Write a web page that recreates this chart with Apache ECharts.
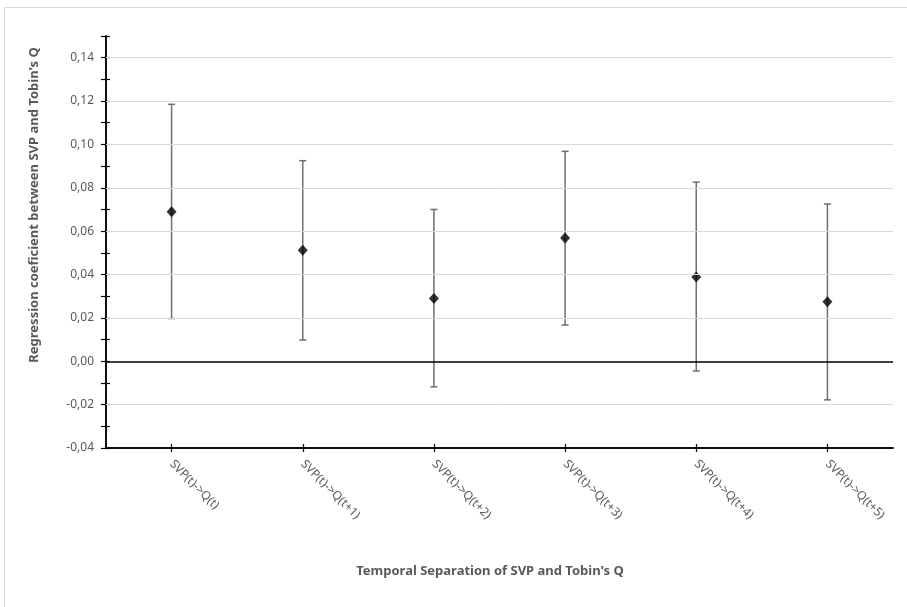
<!DOCTYPE html>
<html lang="en">
<head>
    <meta charset="UTF-8" />
    <title>Regression coefficients</title>
    <style>
        body {
            margin: 0;
            padding: 0;
            background: #fff;
        }
        .chart {
            width: 907px;
            height: 607px;
        }
    </style>
</head>
<body>
<div class="chart"></div>
<script src="https://cdn.jsdelivr.net/npm/echarts@6/dist/echarts.min.js"></script>
<script>
    // data
    const categories = ['SVP(t)->Q(t)', 'SVP(t)->Q(t+1)', 'SVP(t)->Q(t+2)', 'SVP(t)->Q(t+3)', 'SVP(t)->Q(t+4)', 'SVP(t)->Q(t+5)'];
    const coef = [0.069, 0.0512, 0.029, 0.0568, 0.0389, 0.0274];
    const upper = [0.1185, 0.0925, 0.0700, 0.0968, 0.0826, 0.0725];
    const lower = [0.0197, 0.0098, -0.0118, 0.0167, -0.0045, -0.0178];
    const gridValues = [-0.02, 0.02, 0.04, 0.06, 0.08, 0.10, 0.12, 0.14];

    const textColor = '#595959';
    const fontFamily = 'Noto Sans';

    const container = document.querySelector('.chart');
    const instance = echarts.init(container);

    const yBase = {
        type: 'value',
        min: -0.04,
        max: 0.15,
        interval: 0.01,
        position: 'left',
        axisLine: { show: true, lineStyle: { color: '#000', width: 1.5 } },
        splitLine: { show: false }
    };

    const xBase = {
        type: 'category',
        data: categories,
        boundaryGap: true,
        position: 'bottom',
        axisLine: { show: true, onZero: false, lineStyle: { color: '#000', width: 1.5 } },
        splitLine: { show: false }
    };

    const option = {
        animation: false,
        grid: { left: 106, right: 14, top: 36, bottom: 159 },
        xAxis: [
            Object.assign({}, xBase, {
                axisTick: { show: true, alignWithLabel: true, length: 4, lineStyle: { color: '#000', width: 1.2 } },
                axisLabel: {
                    rotate: -45,
                    margin: 14,
                    color: textColor,
                    fontFamily: fontFamily,
                    fontSize: 12
                }
            }),
            Object.assign({}, xBase, {
                axisTick: { show: true, alignWithLabel: true, inside: true, length: 4, lineStyle: { color: '#000', width: 1.2 } },
                axisLabel: { show: false }
            })
        ],
        yAxis: [
            Object.assign({}, yBase, {
                axisTick: { show: true, length: 5, lineStyle: { color: '#000', width: 1.2 } },
                axisLabel: {
                    margin: 12,
                    color: textColor,
                    fontFamily: fontFamily,
                    fontSize: 12,
                    formatter: function (v) {
                        const k = Math.round(v * 100);
                        if (k % 2 !== 0 || k > 14) return '';
                        return v.toFixed(2).replace('.', ',');
                    }
                }
            }),
            Object.assign({}, yBase, {
                axisTick: { show: true, inside: true, length: 4, lineStyle: { color: '#000', width: 1.2 } },
                axisLabel: { show: false }
            })
        ],
        graphic: [
            {
                type: 'line',
                shape: { x1: 4.5, y1: 7.5, x2: 907, y2: 7.5 },
                style: { stroke: '#d9d9d9', lineWidth: 1 }
            },
            {
                type: 'line',
                shape: { x1: 4.5, y1: 7.5, x2: 4.5, y2: 607 },
                style: { stroke: '#d9d9d9', lineWidth: 1 }
            },
            {
                type: 'text',
                x: 34,
                y: 205,
                rotation: Math.PI / 2,
                style: {
                    text: "Regression coeficient between SVP and Tobin's Q",
                    fill: textColor,
                    font: 'bold 13px "Noto Sans"',
                    textAlign: 'center',
                    textVerticalAlign: 'middle'
                }
            },
            {
                type: 'text',
                x: 490,
                y: 571,
                style: {
                    text: "Temporal Separation of SVP and Tobin's Q",
                    fill: textColor,
                    font: 'bold 13px "Noto Sans"',
                    textAlign: 'center',
                    textVerticalAlign: 'middle'
                }
            }
        ],
        series: [
            {
                // grid lines and the zero line
                type: 'scatter',
                data: [],
                z: 1,
                silent: true,
                markLine: {
                    silent: true,
                    symbol: 'none',
                    label: { show: false },
                    lineStyle: { color: '#d9d9d9', width: 1, type: 'solid' },
                    data: gridValues.map(v => ({ yAxis: v })).concat([
                        { yAxis: 0, lineStyle: { color: '#000', width: 1.5, type: 'solid' } }
                    ])
                }
            },
            {
                type: 'custom',
                z: 2,
                data: categories.map((c, i) => [i, lower[i], upper[i]]),
                renderItem: function (params, api) {
                    const lo = api.coord([api.value(0), api.value(1)]);
                    const hi = api.coord([api.value(0), api.value(2)]);
                    const w = 3.5;
                    const style = { stroke: '#6e6e6e', lineWidth: 1.5 };
                    return {
                        type: 'group',
                        children: [
                            { type: 'line', shape: { x1: lo[0], y1: lo[1], x2: hi[0], y2: hi[1] }, style: style },
                            { type: 'line', shape: { x1: hi[0] - w, y1: hi[1], x2: hi[0] + w, y2: hi[1] }, style: style },
                            { type: 'line', shape: { x1: lo[0] - w, y1: lo[1], x2: lo[0] + w, y2: lo[1] }, style: style }
                        ]
                    };
                }
            },
            {
                type: 'scatter',
                z: 3,
                symbol: 'diamond',
                symbolSize: [10, 11],
                itemStyle: { color: '#000' },
                data: coef
            }
        ]
    };
    instance.setOption(option);
</script>
</body>
</html>
